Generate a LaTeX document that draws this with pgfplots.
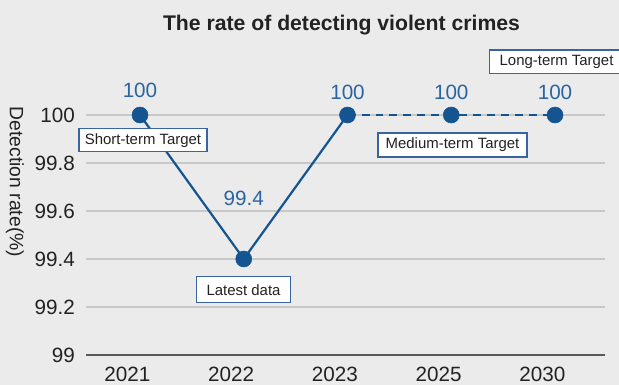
\documentclass[border=0pt]{standalone}
\usepackage{fontspec}
\setmainfont{Liberation Sans}
\usepackage{pgfplots}
\pgfplotsset{compat=1.18}
\usepackage{pgfplotstable}
\usetikzlibrary{backgrounds}

\definecolor{bg}{HTML}{EBEBEB}
\definecolor{gridc}{HTML}{C8C8C8}
\definecolor{axisc}{HTML}{595959}
\definecolor{lineblue}{HTML}{145591}
\definecolor{labelblue}{HTML}{2A64A0}
\definecolor{boxblue}{HTML}{3A64A0}
\definecolor{txt}{HTML}{222222}

% x = category index (2021, 2022, 2023, 2025, 2030), dy = label offset in pt
\pgfplotstableread{
x y dy
0 100 18.75
1 99.4 45.4
2 100 16.9
3 100 16.9
4 100 16.9
}\rates

\begin{document}
\begin{tikzpicture}[
  box/.style={draw=boxblue, line width=0.8pt, fill=white, inner sep=0pt,
    font=\fontsize{11.2}{13}\selectfont, text=txt}]
\begin{axis}[
  name=ax, scale only axis, width=389.25pt, height=180pt,
  xmin=-0.52, xmax=4.482, ymin=99, ymax=100,
  clip=false,
  axis lines*=left,
  y axis line style={draw=none},
  x axis line style={axisc, line width=2pt, -},
  xtick={0,1,2,3,4}, xticklabels={2021,2022,2023,2025,2030},
  ytick={99,99.2,99.4,99.6,99.8,100},
  ymajorgrids, grid style={gridc, line width=1pt},
  major tick length=0pt,
  tick label style={font=\fontsize{15.5}{18}\selectfont, text=txt},
  xticklabel style={anchor=base, yshift=-19.9pt, xshift=-9.4pt},
  yticklabel style={inner sep=0pt, anchor=east, xshift=-8.25pt},
  /pgf/number format/assume math mode=true,
]
\addplot[lineblue, line width=1.65pt, no markers] coordinates {(0,100) (1,99.4) (2,100)};
\addplot[lineblue, line width=1.65pt, dash pattern=on 6pt off 4.5pt, no markers]
  coordinates {(2,100) (3,100) (4,100)};
\addplot[only marks, mark=*, mark size=6pt, mark options={fill=lineblue, draw=lineblue},
  nodes near coords, point meta=explicit symbolic,
  visualization depends on={\thisrow{dy} \as \dy},
  every node near coord/.style={anchor=center, yshift=\dy pt,
    font=\fontsize{15.5}{18}\selectfont, text=labelblue}]
  table[x=x, y=y, meta=y] {\rates};

\node[box, minimum width=96pt, minimum height=17.25pt] at (axis cs:0.029,99.894) {Short-term Target};
\node[box, minimum width=71pt, minimum height=19.5pt] at (axis cs:0.998,99.271) {Latest data};
\node[box, minimum width=111.75pt, minimum height=18pt] at (axis cs:3.012,99.875) {Medium-term Target};
\node[box, anchor=west, minimum width=100.5pt, minimum height=18pt] at (axis cs:3.364,100.221) {Long-term Target};

\node[anchor=base, font=\bfseries\fontsize{15.9}{18}\selectfont, text=txt]
  at (axis cs:1.942,100.354) {The rate of detecting violent crimes};
\node[rotate=-90, font=\fontsize{14.5}{17}\selectfont, text=txt]
  at (axis cs:-1.205,99.721) {Detection rate(\%)};

\coordinate (bbsw) at (axis cs:-1.3494,98.875);
\coordinate (bbne) at (axis cs:4.6169,100.4792);
\end{axis}
\begin{scope}[on background layer]
  \fill[bg] (bbsw) rectangle (bbne);
\end{scope}
\pgfresetboundingbox
\path[use as bounding box] (bbsw) rectangle (bbne);
\end{tikzpicture}
\end{document}
